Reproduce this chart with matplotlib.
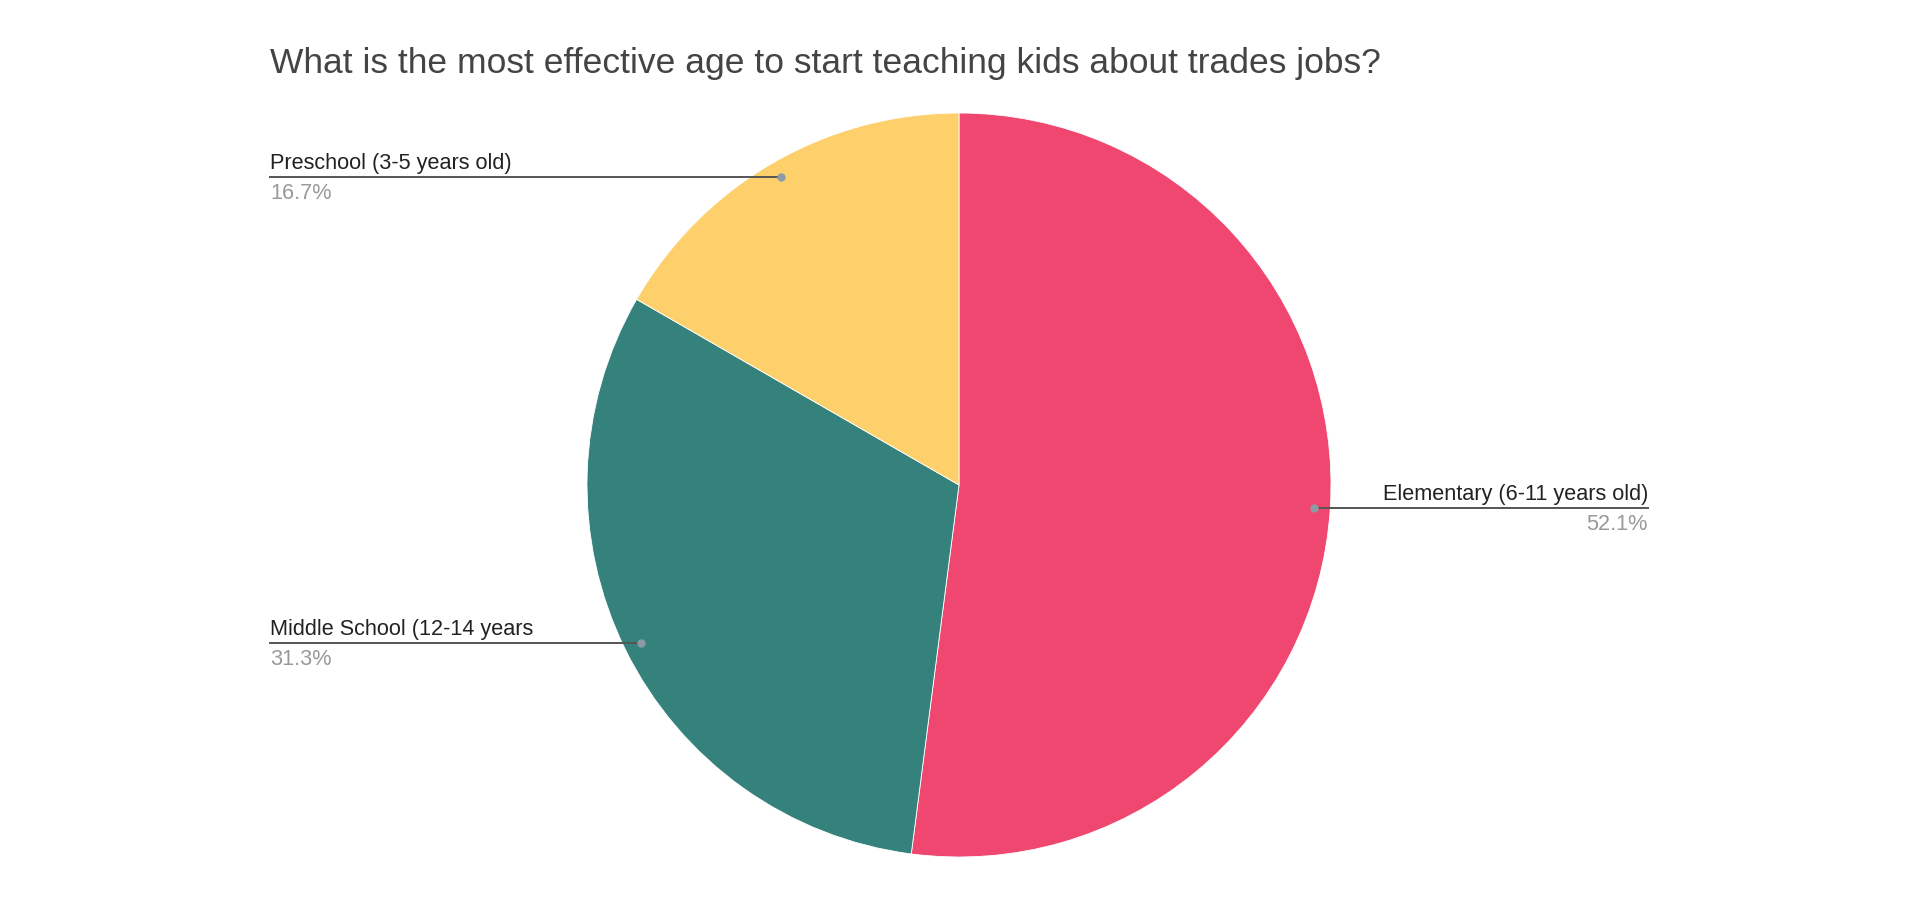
import numpy as np
import matplotlib
matplotlib.use("Agg")
import matplotlib.pyplot as plt

plt.rcParams['font.family'] = ['Liberation Sans', 'DejaVu Sans']

# survey answers (share of responses)
labels = ['Elementary (6-11 years old)', 'Middle School (12-14 years', 'Preschool (3-5 years old)']
shares = [52.1, 31.3, 16.7]
colors = ['#EF476F', '#35827C', '#FDD06B']
title = 'What is the most effective age to start teaching kids about trades jobs?'

W, H = 1920, 900
cx, cy, R = 959, H - 485, 372

fig = plt.figure(figsize=(W / 100, H / 100), dpi=100)
ax = fig.add_axes([0, 0, 1, 1])
wedges, _ = ax.pie(shares, colors=colors, startangle=90, counterclock=False,
                   center=(cx, cy), radius=R,
                   wedgeprops=dict(linewidth=0.6, edgecolor='white'))
ax.set_xlim(0, W)
ax.set_ylim(0, H)
ax.set_aspect('equal')
ax.axis('off')

fig.text(270 / W, 1 - 73 / H, title, fontsize=25.5, color='#444444', va='baseline', ha='left')

left_x, right_x = 270, 1648
for w, lab, s in zip(wedges, labels, shares):
    mid = np.deg2rad((w.theta1 + w.theta2) / 2)
    dx, dy = cx + 0.955 * R * np.cos(mid), cy + 0.955 * R * np.sin(mid)
    if np.cos(mid) > 0:
        ax.plot([dx, right_x], [dy, dy], color='#555555', lw=1.4, zorder=3)
        tx, ha = right_x, 'right'
    else:
        ax.plot([left_x, dx], [dy, dy], color='#555555', lw=1.4, zorder=3)
        tx, ha = left_x, 'left'
    ax.plot(dx, dy, 'o', ms=5, color='#8c9ba5', zorder=4)
    ax.text(tx, dy + 8, lab, fontsize=15.6, color='#222222', ha=ha, va='baseline')
    ax.text(tx, dy - 22, f'{s:.1f}%', fontsize=15.6, color='#999999', ha=ha, va='baseline')

fig.savefig('out.png', dpi=100, facecolor='white')
